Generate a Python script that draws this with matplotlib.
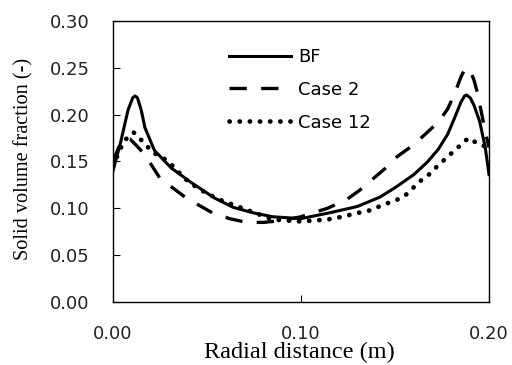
import matplotlib
matplotlib.use("Agg")
import matplotlib.pyplot as plt

# BF (solid)
r_bf = [0.0, 0.004, 0.008, 0.0105, 0.0117, 0.013, 0.015, 0.017, 0.022, 0.031, 0.042,
        0.054, 0.064, 0.075, 0.085, 0.100, 0.117, 0.130, 0.142, 0.150, 0.160, 0.167,
        0.173, 0.178, 0.182, 0.185, 0.187, 0.188, 0.190, 0.192, 0.195, 0.198, 0.200]
v_bf = [0.140, 0.170, 0.205, 0.218, 0.220, 0.218, 0.205, 0.186, 0.162, 0.143, 0.127,
        0.111, 0.101, 0.095, 0.091, 0.089, 0.096, 0.102, 0.112, 0.122, 0.136, 0.149,
        0.163, 0.179, 0.198, 0.213, 0.220, 0.221, 0.218, 0.210, 0.193, 0.165, 0.136]

# Case 2 (dashed)
r_c2 = [0.0, 0.003, 0.006, 0.009, 0.013, 0.017, 0.025, 0.039, 0.053, 0.062, 0.071,
        0.080, 0.090, 0.100, 0.106, 0.114, 0.124, 0.131, 0.138, 0.145, 0.151, 0.160,
        0.166, 0.173, 0.178, 0.182, 0.185, 0.187, 0.188, 0.190, 0.192, 0.194, 0.196,
        0.198, 0.200]
v_c2 = [0.150, 0.165, 0.175, 0.174, 0.166, 0.157, 0.132, 0.111, 0.095, 0.089, 0.085,
        0.085, 0.087, 0.091, 0.095, 0.100, 0.109, 0.119, 0.131, 0.143, 0.155, 0.168,
        0.179, 0.192, 0.206, 0.224, 0.240, 0.248, 0.250, 0.247, 0.237, 0.222, 0.202,
        0.182, 0.165]

# Case 12 (dotted)
r_c12 = [0.0, 0.004, 0.0065, 0.009, 0.011, 0.016, 0.021, 0.028, 0.033, 0.038, 0.044,
         0.049, 0.057, 0.069, 0.085, 0.0995, 0.114, 0.122, 0.130, 0.137, 0.144, 0.151,
         0.157, 0.162, 0.168, 0.173, 0.178, 0.184, 0.189, 0.195, 0.200]
v_c12 = [0.145, 0.164, 0.173, 0.178, 0.181, 0.171, 0.160, 0.152, 0.143, 0.132, 0.123,
         0.117, 0.109, 0.100, 0.088, 0.086, 0.088, 0.091, 0.095, 0.098, 0.104, 0.109,
         0.116, 0.127, 0.136, 0.146, 0.155, 0.166, 0.175, 0.168, 0.165]

xticks = [0.00, 0.10, 0.20]
xtick_labels = ["0.00", "0.10", "0.20"]
yticks = [0.00, 0.05, 0.10, 0.15, 0.20, 0.25, 0.30]
ytick_labels = ["0.00", "0.05", "0.10", "0.15", "0.20", "0.25", "0.30"]

fig = plt.figure(figsize=(5.12, 3.65), dpi=100)
ax = fig.add_axes([0.2207, 0.1726, 0.7344, 0.7699])

ax.plot(r_bf, v_bf, color="black", lw=2.2, label="BF")
ax.plot(r_c2, v_c2, color="black", lw=2.4, dashes=(5.2, 4.3), label="Case 2")
ax.plot(r_c12, v_c12, color="black", lw=3.4, linestyle=(0, (0.05, 2.1)),
        dash_capstyle="round", label="Case 12")

ax.set_xlim(0, 0.2)
ax.set_ylim(0, 0.3)
ax.set_xticks(xticks)
ax.set_xticklabels(xtick_labels, fontsize=13, family="DejaVu Sans", color="#222222")
ax.set_yticks(yticks)
ax.set_yticklabels(ytick_labels, fontsize=13, family="DejaVu Sans", color="#222222")
ax.tick_params(axis="both", direction="in", length=5, width=0.8, color="black")
ax.tick_params(axis="x", pad=16.5)
ax.tick_params(axis="y", pad=17)
for s in ax.spines.values():
    s.set_linewidth(1.0)

ax.set_xlabel("Radial distance (m)", fontsize=17.5, family="Liberation Serif")
ax.xaxis.label.set_va("baseline")
ax.xaxis.set_label_coords(0.495, -0.199)
ax.set_ylabel("Solid volume fraction (-)", fontsize=14.6, family="Liberation Serif")
ax.yaxis.label.set_va("center")
ax.yaxis.set_label_coords(-0.2367, 0.51)

ax.legend(loc="upper left", bbox_to_anchor=(0.265, 0.962), frameon=False,
          prop={"family": "DejaVu Sans", "size": 13}, handlelength=3.44,
          handletextpad=0.39, labelspacing=0.82)

fig.savefig("out.png", dpi=100)
